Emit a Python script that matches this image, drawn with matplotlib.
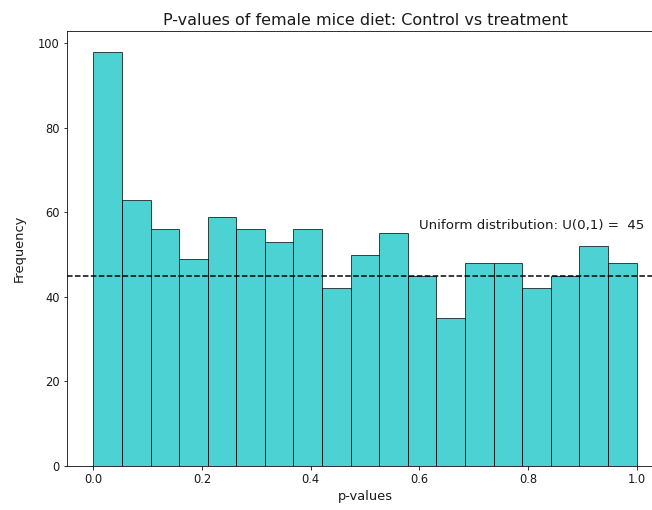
import matplotlib
matplotlib.use("Agg")
import matplotlib.pyplot as plt
import numpy as np

# histogram counts, 19 equal bins on [0, 1]
bin_edges = np.linspace(0.0, 1.0, 20)
counts = [98, 63, 56, 49, 59, 56, 53, 56, 42, 50, 55, 45, 35, 48, 48, 42, 45, 52, 48]
uniform_level = 45

plt.rcParams.update({
    "text.color": "#1a1a1a",
    "axes.labelcolor": "#1a1a1a",
    "xtick.labelcolor": "#1a1a1a",
    "ytick.labelcolor": "#1a1a1a",
})

fig = plt.figure(figsize=(652 / 72, 510 / 72), dpi=72)
# right edge of the axes runs past the figure, as in the cropped original
ax = fig.add_axes([0.1023, 0.0863, 0.915, 0.853])

ax.hist(bin_edges[:-1], bins=bin_edges, weights=counts,
        color="c", alpha=0.7, edgecolor="k")
ax.axhline(uniform_level, color="k", linestyle="--")
ax.text(0.6, 56, f"Uniform distribution: U(0,1) =  {uniform_level}", fontsize=13.4)

ax.set_xlim(-0.049, 1.049)
ax.set_ylim(0, 102.9)
ax.tick_params(labelsize=11.5)
ax.set_xlabel("p-values", fontsize=13)
ax.set_ylabel("Frequency", fontsize=13, labelpad=12)
ax.set_title("P-values of female mice diet: Control vs treatment", fontsize=16)

fig.savefig("out.png", dpi=72)
